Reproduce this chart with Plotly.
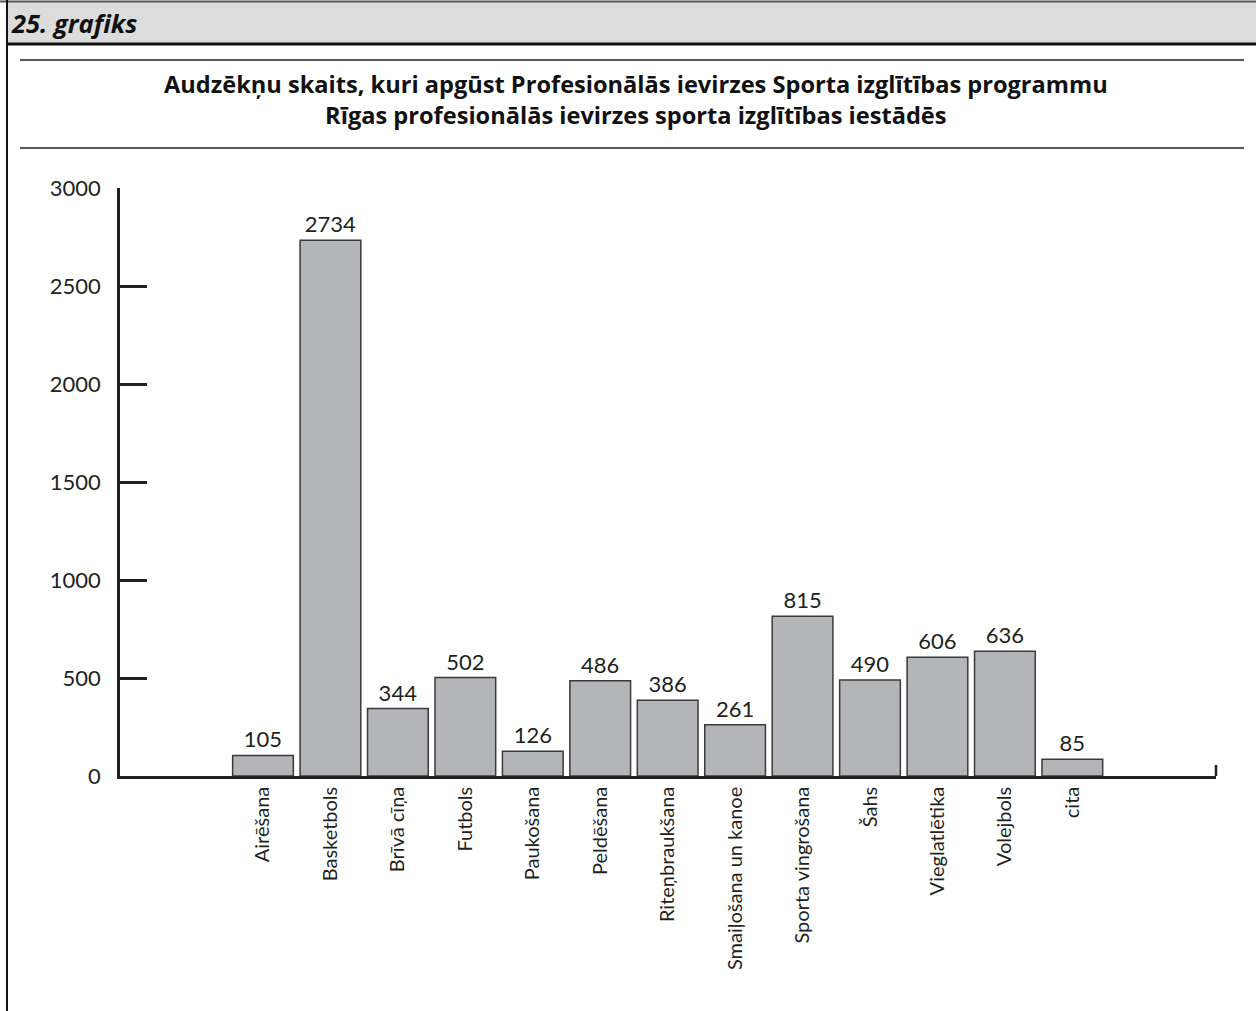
import plotly.graph_objects as go

categories = ["Airēšana", "Basketbols", "Brīvā cīņa", "Futbols", "Paukošana", "Peldēšana",
              "Riteņbraukšana", "Smaiļošana un kanoe", "Sporta vingrošana", "Šahs",
              "Vieglatlētika", "Volejbols", "cita"]
students = [105, 2734, 344, 502, 126, 486, 386, 261, 815, 490, 606, 636, 85]
y_ticks = [0, 500, 1000, 1500, 2000, 2500, 3000]

W, H = 1256, 1011
L, R, T, B = 120, 1216, 188, 776


def px(x):
    # pixel x -> paper
    return (x - L) / (R - L)


def py(y):
    # pixel y -> paper
    return (B - y) / (B - T)


FONT = "Lato"
INK = "#231f20"

fig = go.Figure()
fig.add_trace(go.Bar(
    x=list(range(len(categories))),
    y=students,
    width=0.9,
    marker=dict(color="#b4b5b9", line=dict(color="#3a3a3a", width=1.5)),
    text=[str(v) for v in students],
    textposition="outside",
    textfont=dict(family=FONT, size=22, color=INK),
    cliponaxis=False,
))

shapes = [
    # header strip
    dict(type="rect", xref="paper", yref="paper", x0=px(7), x1=px(W), y0=py(44), y1=py(2),
         fillcolor="#dcdcdc", line=dict(width=0), layer="below"),
    dict(type="line", xref="paper", yref="paper", x0=px(0), x1=px(W), y0=py(1.5), y1=py(1.5),
         line=dict(color="#555555", width=2)),
    dict(type="line", xref="paper", yref="paper", x0=px(7), x1=px(W), y0=py(44), y1=py(44),
         line=dict(color="#111111", width=3)),
    dict(type="line", xref="paper", yref="paper", x0=px(7), x1=px(7), y0=py(0), y1=py(H),
         line=dict(color="#111111", width=2)),
    # title rules
    dict(type="line", xref="paper", yref="paper", x0=px(20), x1=px(1244), y0=py(60), y1=py(60),
         line=dict(color="#222222", width=1.5)),
    dict(type="line", xref="paper", yref="paper", x0=px(20), x1=px(1244), y0=py(148), y1=py(148),
         line=dict(color="#222222", width=1.5)),
    # right end tick of x axis
    dict(type="line", xref="paper", yref="paper", x0=1, x1=1, y0=0, y1=py(765),
         line=dict(color=INK, width=2.5)),
]

annotations = [
    dict(text="<b><i>25. grafiks</i></b>", xref="paper", yref="paper", x=px(9), y=py(23),
         xanchor="left", yanchor="middle", showarrow=False,
         font=dict(family="Open Sans", size=25.5, color="#111111")),
    dict(text="<b>Audzēkņu skaits, kuri apgūst Profesionālās ievirzes Sporta izglītības programmu"
              "<br>Rīgas profesionālās ievirzes sporta izglītības iestādēs</b>",
         xref="paper", yref="paper", x=px(636), y=py(99), xanchor="center", yanchor="middle",
         showarrow=False, align="center",
         font=dict(family="Open Sans", size=23.6, color="#111111")),
]

fig.update_layout(
    width=W, height=H,
    margin=dict(l=L, r=W - R, t=T, b=H - B),
    paper_bgcolor="white", plot_bgcolor="white",
    showlegend=False,
    shapes=shapes,
    annotations=annotations,
    font=dict(family=FONT, color=INK),
)

fig.update_xaxes(
    range=[-2.12, 14.13],
    tickmode="array",
    tickvals=list(range(len(categories))),
    ticktext=categories,
    tickangle=-90,
    tickfont=dict(family=FONT, size=20, color=INK),
    showgrid=False, zeroline=False,
    showline=True, linecolor=INK, linewidth=2.5,
    ticks="",
)

fig.update_yaxes(
    range=[0, 3000],
    tickmode="array",
    tickvals=y_ticks,
    ticktext=[str(v) for v in y_ticks],
    tickfont=dict(family=FONT, size=22, color=INK),
    showgrid=False, zeroline=False,
    showline=True, linecolor=INK, linewidth=2.5,
    ticks="inside", ticklen=27, tickwidth=2.5, tickcolor=INK,
    ticklabelstandoff=12,
)

# drop the page's default body margin so the figure sits at the top left corner
fig.write_html("out.html", config={"displayModeBar": False},
               post_script="document.body.style.margin='0';")
